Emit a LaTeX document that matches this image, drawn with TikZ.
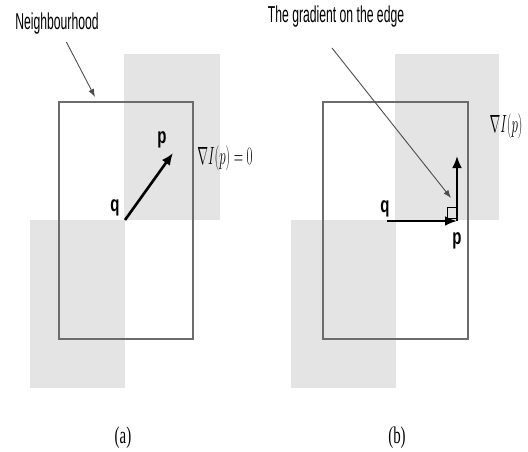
\documentclass[tikz,border=0pt]{standalone}
\usepackage{fontspec}
\usepackage{graphicx}
\usetikzlibrary{arrows.meta}
\setmainfont{Liberation Serif}
\newfontfamily\notefont[FakeStretch=0.53]{Liberation Sans}
\newfontfamily\ptfont[FakeStretch=0.68]{Liberation Sans}
\newfontfamily\capfont[FakeStretch=0.62]{Liberation Serif}
\definecolor{patch}{HTML}{E4E4E4}
\definecolor{rim}{HTML}{6C6C6C}
\tikzset{
  patchfill/.style={fill=patch},
  window/.style={draw=rim, line width=1.4pt},
  grad/.style={line width=2.6pt, -{Latex[length=12pt,width=10pt]}},
  pointer/.style={draw=black!70, line width=0.9pt, -{Latex[length=8pt,width=6pt]}},
  note/.style={font=\notefont\fontsize{23}{25}\selectfont, inner sep=0pt},
  ptlabel/.style={font=\ptfont\bfseries\fontsize{22}{24}\selectfont, inner sep=0pt},
  sublabel/.style={font=\capfont\fontsize{24}{26}\selectfont, inner sep=0pt}
}

\begin{document}
\begin{tikzpicture}[x=1pt,y=-1pt]
    \useasboundingbox (0,0) rectangle (528,452);

    % (a) shaded patches and window
      \fill[patchfill] (124,54) rectangle (220,220);
      \fill[patchfill] (30,220) rectangle (125,388);
      \draw[window] (59,102) rectangle (193,339);

    % (b) shaded patches and window
      \fill[patchfill] (395,54) rectangle (499,220);
      \fill[patchfill] (291,220) rectangle (396,388);
      \draw[window] (323,102) rectangle (468,339);

    % Points
      \coordinate (qa) at (125,220);
      \coordinate (pa) at (173,153);
      \coordinate (qb) at (387,221);
      \coordinate (pb) at (457,221);
      \coordinate (gb) at (457,156);
      \coordinate (neightip) at (95,97);
      \coordinate (edgefoot) at (332,48);
      \coordinate (edgetip) at (451,198);

    % Labels
      \node[note] (neigh) at (57,24) {Neighbourhood};
      \node[note] (edgetxt) at (336,17) {The gradient on the edge};
      \node[ptlabel] (qlaba) at (115,208) {q};
      \node[ptlabel] (plaba) at (162,140) {p};
      \node[ptlabel] (qlabb) at (385,209) {q};
      \node[ptlabel] (plabb) at (457,241) {p};
      \node[inner sep=0pt] (grada) at (225,158)
        {\scalebox{0.52}[1]{\fontsize{26}{28}\selectfont$\nabla I(p) = 0$}};
      \node[inner sep=0pt] (gradb) at (506,126)
        {\scalebox{0.52}[1]{\fontsize{26}{28}\selectfont$\nabla I(p)$}};
      \node[sublabel] (capa) at (123,438) {(a)};
      \node[sublabel] (capb) at (397,438) {(b)};

    % Connectors
      \draw[pointer, shorten <=8pt] (neigh) -- (neightip);
      \draw[pointer] (edgefoot) -- (edgetip);
      \draw[grad] (qa) -- (pa);
      \draw[line width=1pt] (447,207) rectangle (457,218);
      \draw[grad] (qb) -- (pb);
      \draw[grad] (pb) -- (gb);
\end{tikzpicture}
\end{document}
